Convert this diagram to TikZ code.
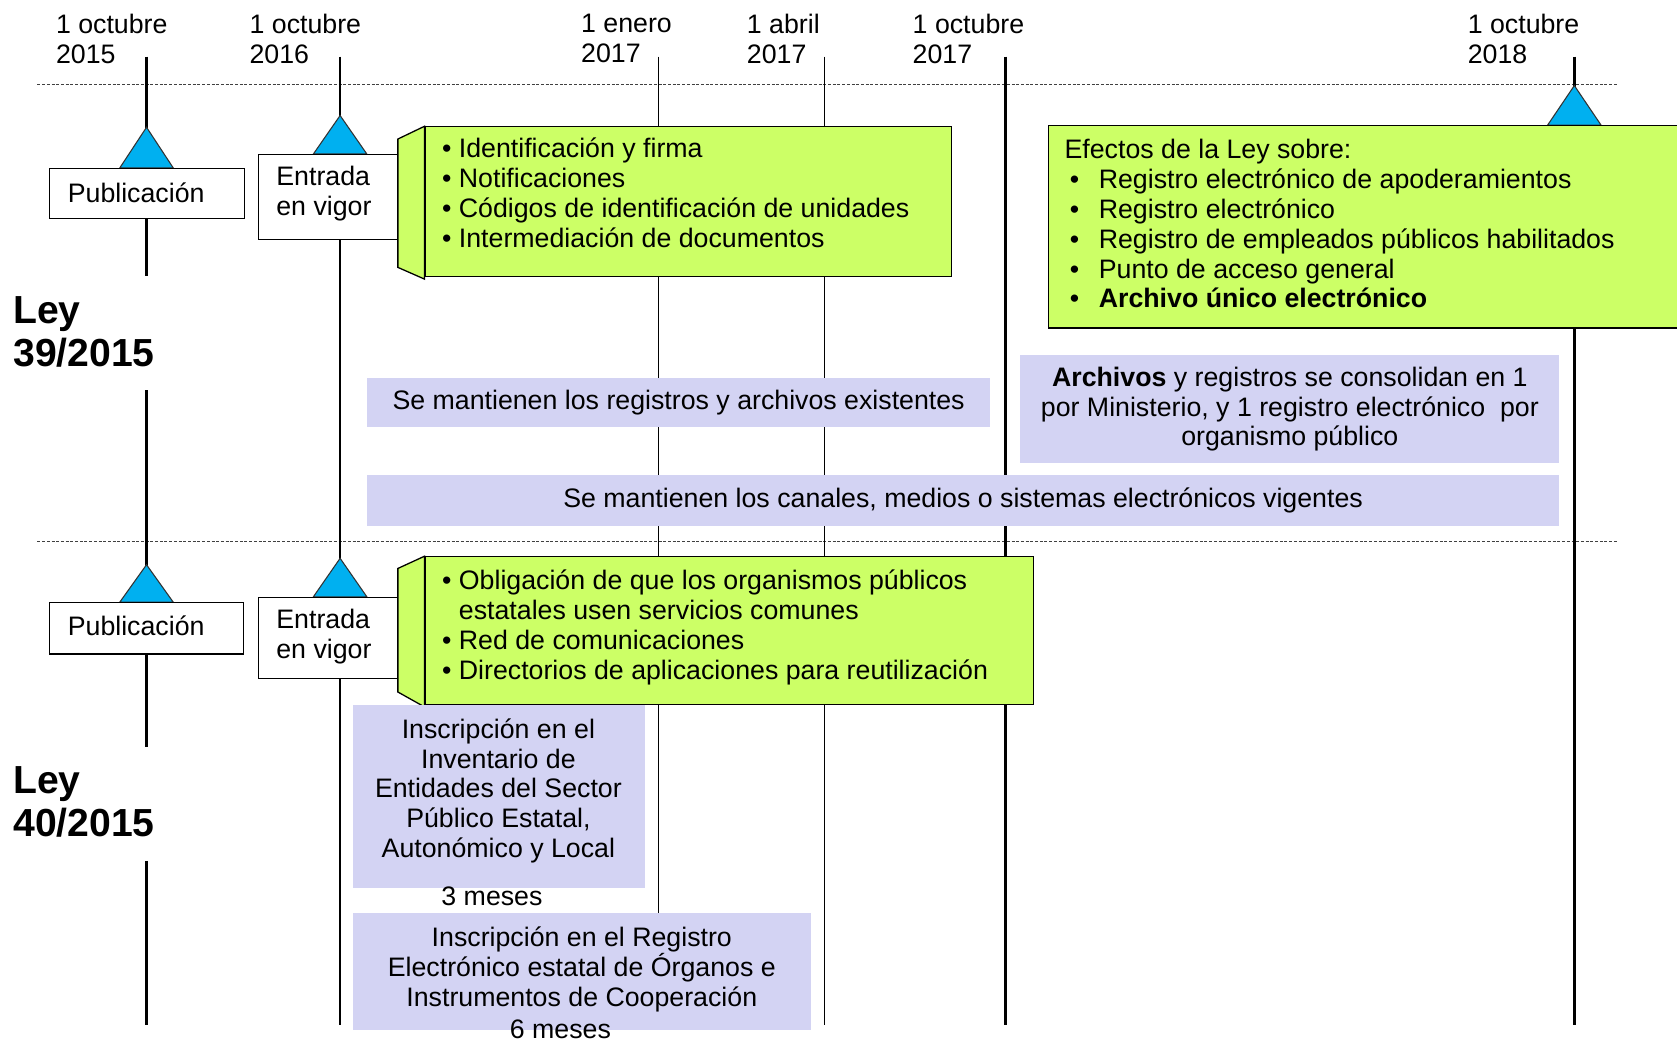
\documentclass[tikz,border=0pt]{standalone}
\usepackage{fontspec}
\setmainfont{Liberation Sans}
\usepackage{xcolor}

\definecolor{calloutgreen}{HTML}{CCFF66}
\definecolor{bandblue}{HTML}{D3D3F3}
\definecolor{markercyan}{HTML}{00B0F0}
\newcommand{\effitem}[1]{\makebox[16pt][l]{\hspace{2.5pt}•}#1}

\begin{document}
\begin{tikzpicture}[x=0.5pt, y=-0.5pt, font=\fontsize{12.5}{14}\selectfont]
% Define styles
\tikzstyle{datelabel} = [align=left, inner sep=0pt, anchor=west]
\tikzstyle{lawlabel} = [align=left, inner sep=0pt, anchor=west, font=\fontsize{18.3}{20}\selectfont\bfseries]
\tikzstyle{event} = [rectangle, draw=black, fill=white, line width=0.6pt, inner sep=0pt, anchor=north west]
\tikzstyle{callout} = [rectangle, draw=black, fill=calloutgreen, line width=0.6pt, inner sep=0pt, anchor=north west]
\tikzstyle{callouttab} = [draw=black, fill=calloutgreen, line width=0.6pt, line join=miter]
\tikzstyle{band} = [rectangle, fill=bandblue, inner sep=0pt, align=center]
\tikzstyle{boxtext} = [align=left, inner sep=0pt, anchor=west]
\tikzstyle{marker} = [draw=black!80, fill=markercyan, line width=0.5pt, line join=miter]
\tikzstyle{timeline} = [line width=1.2pt]
\tikzstyle{thinline} = [line width=0.6pt]
\tikzstyle{divider} = [line width=0.6pt, black!75, dash pattern=on 1.4pt off 0.8pt]

\useasboundingbox (0,0) rectangle (1568,976);
\clip (0,0) rectangle (1568,976);

% Timeline ends
\foreach \name/\x in {t1510/137, t1610/318, t1701/616, t1704/771, t1710/940, t1810/1472} {
  \coordinate (\name-top) at (\x,53);
  \coordinate (\name-bot) at (\x,958);
}
\coordinate (div39-l) at (35,79);
\coordinate (div39-r) at (1512,79);
\coordinate (div40-l) at (35,506);
\coordinate (div40-r) at (1512,506);

% Draw dividers and timelines
\draw [divider] (div39-l) -- (div39-r);
\draw [divider] (div40-l) -- (div40-r);
\draw [timeline] (t1510-top) -- (137,258) (137,365) -- (137,698) (137,805) -- (t1510-bot);
\draw [timeline] (t1610-top) -- (t1610-bot);
\draw [thinline] (t1701-top) -- (t1701-bot);
\draw [thinline] (t1704-top) -- (t1704-bot);
\draw [timeline] (t1710-top) -- (t1710-bot);
\draw [timeline] (t1810-top) -- (t1810-bot);

% Date labels
\node [datelabel] (d1510) at (52,36) {1 octubre\\2015};
\node [datelabel] (d1610) at (233,36) {1 octubre\\2016};
\node [datelabel] (d1701) at (543,36) {1 enero\\2017};
\node [datelabel] (d1704) at (698,36) {1 abril\\2017};
\node [datelabel] (d1710) at (853,36) {1 octubre\\2017};
\node [datelabel] (d1810) at (1372,36) {1 octubre\\2018};

% Law labels
\node [lawlabel] (law39) at (12,310) {Ley\\39/2015};
\node [lawlabel] (law40) at (12,750) {Ley\\40/2015};

% Milestone markers
\foreach \x/\ya/\yb in {137/119/157, 318/108/144, 1472/80/117, 137/528/563, 318/522/558}
  \draw [marker] (\x,\ya) -- (\x+25,\yb) -- (\x-25,\yb) -- cycle;

% Ley 39/2015 boxes
\node [event, minimum width=91pt, minimum height=23.5pt] (pub39) at (46,157) {};
\node [boxtext] (pub39-txt) at (63,180) {Publicación};
\node [event, minimum width=65.5pt, minimum height=39.5pt] (vig39) at (241,144) {};
\node [boxtext] (vig39-txt) at (258,181) {Entrada\\en vigor};

\node [callout, minimum width=246pt, minimum height=70pt] (call39) at (397,118) {};
\draw [callouttab] (372,130) -- (397,118) -- (397,261) -- (372,250) -- cycle;
\node [boxtext] (call39-txt) at (413,180.5) {• Identificación y firma\\• Notificaciones\\• Códigos de identificación de unidades\\• Intermediación de documentos};

\node [callout, minimum width=350pt, minimum height=94.5pt] (eff39) at (980,117) {};
\node [boxtext] (eff39-txt) at (995,209) {Efectos de la Ley sobre:\\\effitem{Registro electrónico de apoderamientos}\\\effitem{Registro electrónico}\\\effitem{Registro de empleados públicos habilitados}\\\effitem{Punto de acceso general}\\\effitem{\textbf{Archivo único electrónico}}};

\node [band, minimum width=291.5pt, minimum height=23pt] (keepreg) at (634.5,376) {Se mantienen los registros y archivos existentes};
\node [band, minimum width=252pt, minimum height=50.5pt] (consol) at (1206,382.5) {\textbf{Archivos} y registros se consolidan en 1\\por Ministerio, y 1 registro electrónico~ por\\organismo público};
\node [band, minimum width=557.5pt, minimum height=24pt] (keepchan) at (900.5,468) {Se mantienen los canales, medios o sistemas electrónicos vigentes};

% Ley 40/2015 boxes
\node [event, minimum width=90.5pt, minimum height=24pt] (pub40) at (46,563) {};
\node [boxtext] (pub40-txt) at (63,585) {Publicación};
\node [event, minimum width=65.5pt, minimum height=38pt] (vig40) at (241,558) {};
\node [boxtext] (vig40-txt) at (258,595) {Entrada\\en vigor};

\node [callout, minimum width=284.5pt, minimum height=69pt] (call40) at (397,520) {};
\draw [callouttab] (372,531.5) -- (397,520) -- (397,661) -- (372,647) -- cycle;
\node [boxtext] (call40-txt) at (413,586.5) {• Obligación de que los organismos públicos\\\hphantom{• }estatales usen servicios comunes\\• Red de comunicaciones\\• Directorios de aplicaciones para reutilización};

\node [band, minimum width=136.5pt, minimum height=85.5pt] (inv) at (466.5,744.5) {};
\node [align=center, inner sep=0pt] (inv-txt) at (466,739.5) {Inscripción en el\\Inventario de\\Entidades del Sector\\Público Estatal,\\Autonómico y Local};
\node [inner sep=0pt] (inv-time) at (460,838) {3 meses};

\node [band, minimum width=214pt, minimum height=54.5pt] (reoic) at (544,908.5) {};
\node [align=center, inner sep=0pt] (reoic-txt) at (544,906.5) {Inscripción en el Registro\\Electrónico estatal de Órganos e\\Instrumentos de Cooperación};
\node [inner sep=0pt] (reoic-time) at (524,962) {6 meses};
\end{tikzpicture}
\end{document}
